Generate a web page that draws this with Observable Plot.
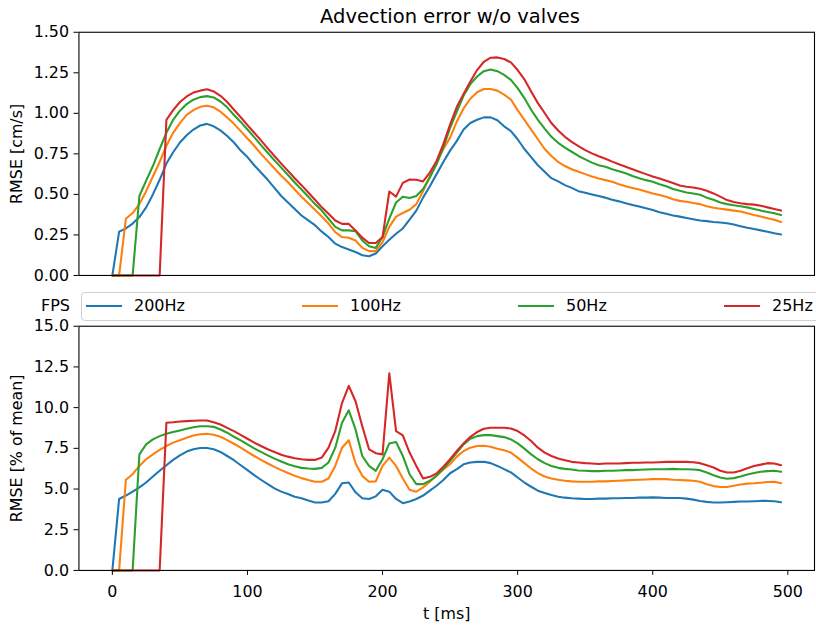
<!DOCTYPE html>
<html>
<head>
<meta charset="utf-8">
<script src="https://cdn.jsdelivr.net/npm/d3@7"></script>
<script src="https://cdn.jsdelivr.net/npm/@observablehq/plot@0.6"></script>
<style>
  html, body { margin: 0; padding: 0; background: white; }
  body { width: 816px; height: 625px; overflow: hidden; position: relative; font-family: "DejaVu Sans", sans-serif; color: black; }
  .abs { position: absolute; }
  #title { left: 0; width: 900px; top: 5px; text-align: center; font-size: 19.5px; white-space: nowrap; }
  #top { left: 0; top: 0; }
  #bottom { left: 0; top: 290px; }
  #legend { left: 81px; top: 292px; width: 750px; height: 27px; border: 1px solid #d0d0d0; border-radius: 4px; background: rgba(255,255,255,0.8); }
  .swatch { position: absolute; top: 12px; width: 36px; height: 2.4px; }
  .ltext { position: absolute; top: 3px; font-size: 16px; line-height: 20px; white-space: nowrap; }
  #fps { left: 30px; width: 40px; top: 296px; text-align: right; font-size: 16px; line-height: 20px; }
</style>
</head>
<body>
<div id="title" class="abs">Advection error w/o valves</div>
<div id="top" class="abs"></div>
<div id="bottom" class="abs"></div>
<div id="fps" class="abs">FPS</div>
<div id="legend" class="abs"></div>
<script>
// ---- data ----
const t = [
  0, 5, 10, 15, 20, 25, 30, 35, 40, 45,
  50, 55, 60, 65, 70, 75, 80, 85, 90, 95,
  100, 105, 110, 115, 120, 125, 130, 135, 140, 145,
  150, 155, 160, 165, 170, 175, 180, 185, 190, 195,
  200, 205, 210, 215, 220, 225, 230, 235, 240, 245,
  250, 255, 260, 265, 270, 275, 280, 285, 290, 295,
  300, 305, 310, 315, 320, 325, 330, 335, 340, 345,
  350, 355, 360, 365, 370, 375, 380, 385, 390, 395,
  400, 405, 410, 415, 420, 425, 430, 435, 440, 445,
  450, 455, 460, 465, 470, 475, 480, 485, 490, 495
];
const series = ["200Hz", "100Hz", "50Hz", "25Hz"];
const colors = ["#1f77b4", "#ff7f0e", "#2ca02c", "#d62728"];

// RMSE [cm/s]
const abs200 = [
  0, 0.27, 0.29, 0.32, 0.36, 0.42, 0.50, 0.59, 0.69, 0.76,
  0.82, 0.865, 0.90, 0.925, 0.935, 0.92, 0.895, 0.86, 0.82, 0.77,
  0.73, 0.68, 0.635, 0.59, 0.54, 0.49, 0.45, 0.41, 0.37, 0.34,
  0.31, 0.27, 0.237, 0.196, 0.175, 0.16, 0.145, 0.125, 0.118, 0.135,
  0.18, 0.22, 0.257, 0.29, 0.345, 0.40, 0.48, 0.55, 0.625, 0.70,
  0.77, 0.83, 0.90, 0.94, 0.96, 0.975, 0.975, 0.957, 0.92, 0.89,
  0.84, 0.78, 0.73, 0.68, 0.64, 0.60, 0.58, 0.557, 0.54, 0.52,
  0.51, 0.50, 0.49, 0.48, 0.467, 0.457, 0.445, 0.435, 0.425, 0.414,
  0.404, 0.39, 0.38, 0.37, 0.363, 0.355, 0.347, 0.339, 0.335, 0.33,
  0.327, 0.322, 0.314, 0.304, 0.294, 0.286, 0.278, 0.27, 0.26, 0.253
];
const abs100 = [
  0, 0, 0.35, 0.385, 0.44, 0.52, 0.61, 0.70, 0.80, 0.88,
  0.94, 0.99, 1.02, 1.04, 1.047, 1.037, 1.01, 0.975, 0.935, 0.89,
  0.845, 0.80, 0.75, 0.705, 0.66, 0.615, 0.575, 0.53, 0.485, 0.445,
  0.405, 0.363, 0.32, 0.267, 0.237, 0.233, 0.216, 0.17, 0.15, 0.15,
  0.205, 0.30, 0.363, 0.385, 0.405, 0.44, 0.52, 0.61, 0.70, 0.78,
  0.85, 0.95, 1.03, 1.09, 1.13, 1.15, 1.15, 1.14, 1.115, 1.085,
  1.02, 0.96, 0.90, 0.84, 0.78, 0.737, 0.70, 0.675, 0.655, 0.64,
  0.625, 0.61, 0.598, 0.588, 0.578, 0.563, 0.55, 0.54, 0.53, 0.518,
  0.506, 0.496, 0.486, 0.47, 0.46, 0.455, 0.447, 0.44, 0.427, 0.418,
  0.412, 0.406, 0.40, 0.394, 0.384, 0.373, 0.363, 0.353, 0.343, 0.33
];
const abs50 = [
  0, 0, 0, 0, 0.49, 0.585, 0.675, 0.78, 0.88, 0.96,
  1.016, 1.057, 1.084, 1.10, 1.106, 1.098, 1.073, 1.037, 0.99, 0.947,
  0.90, 0.853, 0.804, 0.757, 0.71, 0.665, 0.62, 0.573, 0.53, 0.486,
  0.44, 0.40, 0.35, 0.30, 0.278, 0.278, 0.273, 0.216, 0.18, 0.17,
  0.237, 0.35, 0.45, 0.486, 0.478, 0.49, 0.533, 0.604, 0.686, 0.79,
  0.91, 1.01, 1.11, 1.18, 1.227, 1.26, 1.27, 1.26, 1.237, 1.206,
  1.155, 1.094, 1.022, 0.96, 0.906, 0.855, 0.818, 0.788, 0.763, 0.737,
  0.716, 0.696, 0.68, 0.67, 0.655, 0.643, 0.63, 0.614, 0.60, 0.588,
  0.578, 0.563, 0.55, 0.533, 0.522, 0.512, 0.506, 0.498, 0.48, 0.467,
  0.45, 0.44, 0.433, 0.427, 0.42, 0.41, 0.40, 0.392, 0.384, 0.373
];
const abs25 = [
  0, 0, 0, 0, 0, 0, 0, 0, 0.96, 1.02,
  1.07, 1.104, 1.128, 1.14, 1.149, 1.135, 1.108, 1.07, 1.022, 0.976,
  0.927, 0.88, 0.833, 0.784, 0.737, 0.69, 0.645, 0.60, 0.557, 0.512,
  0.467, 0.42, 0.38, 0.339, 0.318, 0.318, 0.278, 0.233, 0.20, 0.20,
  0.237, 0.518, 0.486, 0.571, 0.592, 0.59, 0.58, 0.635, 0.706, 0.81,
  0.93, 1.04, 1.12, 1.196, 1.267, 1.318, 1.343, 1.345, 1.335, 1.314,
  1.267, 1.21, 1.135, 1.063, 1.002, 0.94, 0.894, 0.855, 0.824, 0.798,
  0.773, 0.753, 0.735, 0.72, 0.702, 0.686, 0.67, 0.655, 0.64, 0.625,
  0.61, 0.598, 0.584, 0.57, 0.555, 0.547, 0.543, 0.535, 0.522, 0.506,
  0.486, 0.465, 0.453, 0.445, 0.44, 0.437, 0.43, 0.42, 0.41, 0.40
];

// RMSE [% of mean]
const rel200 = [
  0, 4.39, 4.6, 4.84, 5.1, 5.4, 5.77, 6.12, 6.46, 6.79,
  7.07, 7.3, 7.44, 7.52, 7.52, 7.44, 7.28, 7.03, 6.77, 6.46,
  6.16, 5.85, 5.57, 5.3, 5.04, 4.84, 4.7, 4.53, 4.43, 4.29,
  4.17, 4.17, 4.25, 4.7, 5.35, 5.4, 4.8, 4.43, 4.39, 4.55,
  4.96, 4.84, 4.39, 4.13, 4.23, 4.39, 4.6, 4.9, 5.2, 5.55,
  5.97, 6.22, 6.52, 6.63, 6.67, 6.67, 6.59, 6.42, 6.22, 6.02,
  5.71, 5.4, 5.14, 4.9, 4.76, 4.63, 4.53, 4.47, 4.43, 4.41,
  4.39, 4.39, 4.41, 4.41, 4.43, 4.43, 4.45, 4.45, 4.47, 4.47,
  4.49, 4.47, 4.45, 4.45, 4.45, 4.41, 4.35, 4.27, 4.21, 4.17,
  4.17, 4.19, 4.21, 4.23, 4.23, 4.25, 4.27, 4.27, 4.25, 4.19
];
const rel100 = [
  0, 0, 5.57, 5.91, 6.42, 6.83, 7.13, 7.4, 7.64, 7.85,
  8.0, 8.15, 8.29, 8.37, 8.39, 8.33, 8.21, 8.0, 7.78, 7.54,
  7.28, 7.03, 6.79, 6.57, 6.36, 6.16, 5.98, 5.81, 5.67, 5.55,
  5.45, 5.45, 5.65, 6.42, 7.54, 8.0, 6.59, 5.81, 5.45, 5.47,
  6.42, 6.93, 6.42, 5.65, 4.96, 4.84, 5.1, 5.45, 5.83, 6.2,
  6.52, 6.99, 7.34, 7.54, 7.64, 7.66, 7.6, 7.48, 7.38, 7.24,
  6.93, 6.59, 6.26, 5.98, 5.77, 5.65, 5.57, 5.51, 5.47, 5.45,
  5.45, 5.45, 5.47, 5.47, 5.49, 5.51, 5.53, 5.55, 5.57, 5.59,
  5.61, 5.61, 5.61, 5.57, 5.55, 5.53, 5.51, 5.45, 5.3, 5.18,
  5.12, 5.12, 5.2, 5.28, 5.33, 5.35, 5.39, 5.43, 5.45, 5.35
];
const rel50 = [
  0, 0, 0, 0, 7.13, 7.74, 8.05, 8.25, 8.39, 8.5,
  8.6, 8.7, 8.8, 8.86, 8.86, 8.82, 8.66, 8.46, 8.21, 7.99,
  7.74, 7.5, 7.28, 7.07, 6.87, 6.69, 6.52, 6.4, 6.3, 6.26,
  6.24, 6.3, 6.63, 7.54, 9.07, 9.84, 8.66, 7.03, 6.42, 6.12,
  6.83, 7.8, 7.89, 7.03, 5.91, 5.3, 5.3, 5.51, 5.81, 6.24,
  6.73, 7.24, 7.74, 8.09, 8.25, 8.31, 8.31, 8.25, 8.19, 8.05,
  7.8, 7.48, 7.13, 6.83, 6.59, 6.42, 6.3, 6.24, 6.2, 6.14,
  6.12, 6.1, 6.1, 6.12, 6.12, 6.14, 6.16, 6.16, 6.18, 6.2,
  6.22, 6.22, 6.22, 6.24, 6.22, 6.22, 6.2, 6.16, 6.02, 5.85,
  5.71, 5.63, 5.67, 5.77, 5.89, 5.98, 6.06, 6.1, 6.12, 6.06
];
const rel25 = [
  0, 0, 0, 0, 0, 0, 0, 0, 9.07, 9.1,
  9.15, 9.17, 9.19, 9.21, 9.21, 9.1, 8.96, 8.76, 8.56, 8.33,
  8.09, 7.85, 7.64, 7.44, 7.28, 7.11, 6.99, 6.89, 6.83, 6.79,
  6.79, 6.93, 7.54, 8.56, 10.28, 11.34, 10.39, 8.86, 7.44, 7.2,
  7.13, 12.11, 8.56, 8.29, 7.24, 6.42, 5.65, 5.75, 5.96, 6.37,
  6.83, 7.34, 7.8, 8.21, 8.5, 8.7, 8.76, 8.76, 8.76, 8.72,
  8.56, 8.29, 7.95, 7.54, 7.24, 7.03, 6.87, 6.77, 6.67, 6.63,
  6.59, 6.57, 6.54, 6.57, 6.57, 6.57, 6.59, 6.61, 6.61, 6.63,
  6.63, 6.65, 6.67, 6.67, 6.67, 6.67, 6.65, 6.59, 6.46, 6.32,
  6.12, 6.02, 6.02, 6.12, 6.28, 6.42, 6.5, 6.59, 6.57, 6.46
];

const yTicksTop = [0, 0.25, 0.5, 0.75, 1.0, 1.25, 1.5];
const yTicksBottom = [0, 2.5, 5, 7.5, 10, 12.5, 15];
const xTicks = [0, 100, 200, 300, 400, 500];

// ---- tidy tables ----
function tidy(arrs) {
  return series.flatMap((s, i) => arrs[i].map((v, j) => ({t: t[j], v, s})));
}
const topData = tidy([abs200, abs100, abs50, abs25]);
const bottomData = tidy([rel200, rel100, rel50, rel25]);

const xDomain = [-24.75, 519.75];
const common = {
  width: 822,
  marginLeft: 79,
  marginRight: 2,
  style: {fontFamily: "DejaVu Sans", fontSize: "16px", background: "transparent", color: "black", overflow: "visible"},
  color: {domain: series, range: colors}
};

const topPlot = Plot.plot({
  ...common,
  height: 285,
  marginTop: 32,
  marginBottom: 8,
  x: {domain: xDomain, axis: null},
  y: {domain: [0, 1.5], axis: null},
  marks: [
    Plot.line(topData, {x: "t", y: "v", z: "s", stroke: "s", strokeWidth: 2.1}),
    Plot.frame({stroke: "black", strokeWidth: 1.1}),
    Plot.axisY(yTicksTop, {
      tickFormat: d3.format(".2f"), tickSize: 5, tickPadding: 5, fontSize: 16,
      label: "RMSE [cm/s]", labelAnchor: "center", labelArrow: "none", labelOffset: 69
    })
  ]
});
document.getElementById("top").appendChild(topPlot);

const bottomPlot = Plot.plot({
  ...common,
  height: 335,
  marginTop: 36,
  marginBottom: 53,
  x: {domain: xDomain, axis: null},
  y: {domain: [0, 15], axis: null},
  marks: [
    Plot.line(bottomData, {x: "t", y: "v", z: "s", stroke: "s", strokeWidth: 2.1}),
    Plot.frame({stroke: "black", strokeWidth: 1.1}),
    Plot.axisY(yTicksBottom, {
      tickFormat: d3.format(".1f"), tickSize: 5, tickPadding: 5, fontSize: 16,
      label: "RMSE [% of mean]", labelAnchor: "center", labelArrow: "none", labelOffset: 69
    }),
    Plot.axisX(xTicks, {
      tickFormat: d3.format("d"), tickSize: 5, tickPadding: 10, fontSize: 16,
      label: "t [ms]", labelAnchor: "center", labelArrow: "none", labelOffset: 49
    })
  ]
});
document.getElementById("bottom").appendChild(bottomPlot);

// ---- legend ----
const legend = document.getElementById("legend");
const itemLeft = [4, 220, 436, 642];
series.forEach((s, i) => {
  const sw = document.createElement("div");
  sw.className = "swatch";
  sw.style.left = itemLeft[i] + "px";
  sw.style.background = colors[i];
  legend.appendChild(sw);
  const tx = document.createElement("div");
  tx.className = "ltext";
  tx.style.left = (itemLeft[i] + 48) + "px";
  tx.textContent = s;
  legend.appendChild(tx);
});
</script>
</body>
</html>
